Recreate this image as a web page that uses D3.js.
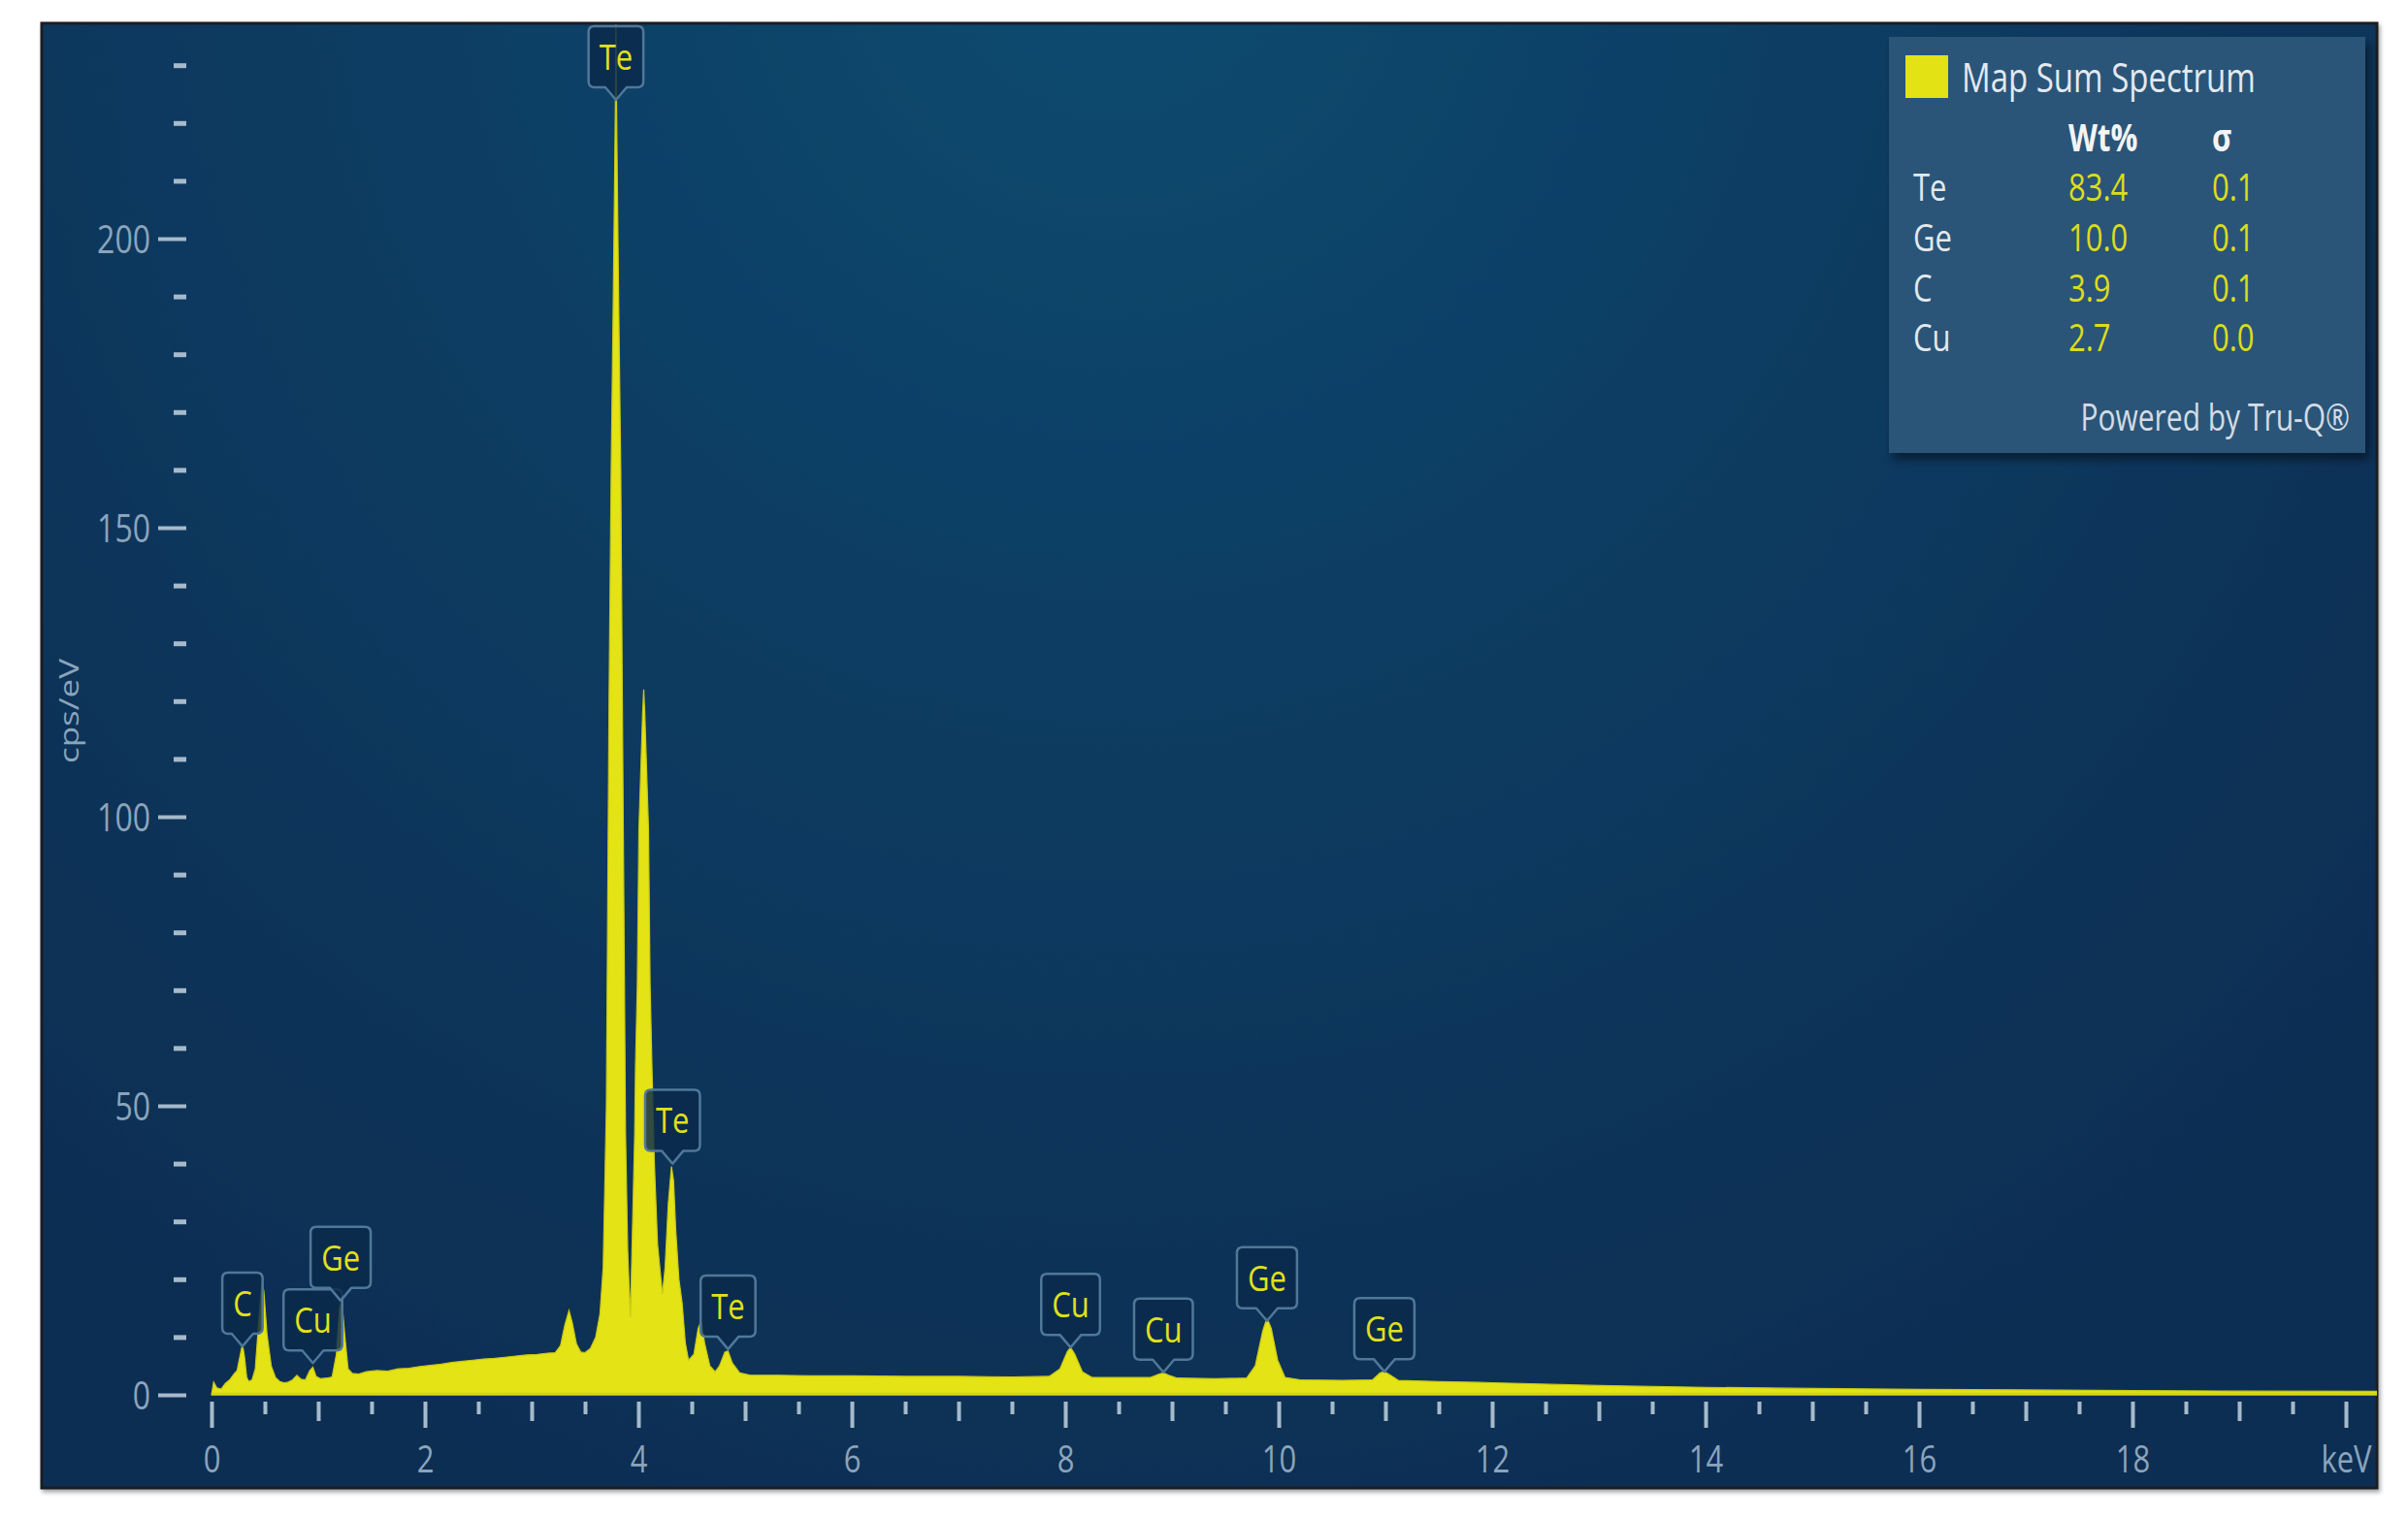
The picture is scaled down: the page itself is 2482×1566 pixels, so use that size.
<!DOCTYPE html>
<html><head><meta charset="utf-8">
<script src="https://cdn.jsdelivr.net/npm/d3@7"></script>
<style>body{margin:0;background:#fff;} svg{display:block;}</style>
</head><body>
<svg id="c" width="2482" height="1566"></svg>
<script>
// ---------- data ----------
const energy = [0.00,0.02,0.05,0.09,0.13,0.17,0.21,0.24,0.27,0.29,0.31,0.33,0.35,0.38,0.41,0.44,0.47,0.49,0.52,0.56,0.60,0.64,0.68,0.72,0.76,0.80,0.84,0.88,0.92,0.95,0.98,1.02,1.08,1.13,1.17,1.20,1.22,1.25,1.28,1.32,1.38,1.45,1.55,1.65,1.75,1.85,1.95,2.05,2.15,2.25,2.35,2.45,2.55,2.65,2.75,2.85,2.95,3.05,3.15,3.22,3.27,3.31,3.35,3.38,3.42,3.46,3.50,3.55,3.60,3.64,3.67,3.70,3.725,3.745,3.765,3.78,3.787,3.79,3.793,3.80,3.815,3.835,3.85,3.88,3.90,3.925,3.94,3.965,3.973,3.99,4.005,4.04,4.05,4.06,4.095,4.11,4.127,4.15,4.18,4.225,4.25,4.28,4.31,4.33,4.35,4.38,4.41,4.44,4.47,4.52,4.56,4.59,4.62,4.67,4.72,4.76,4.81,4.84,4.88,4.95,5.05,5.30,5.60,6.00,6.50,7.00,7.50,7.85,7.95,8.02,8.05,8.09,8.16,8.25,8.50,8.80,8.88,8.92,8.97,9.05,9.40,9.70,9.78,9.85,9.89,9.93,9.99,10.06,10.20,10.60,10.88,10.95,10.99,11.04,11.12,11.50,12.00,13.00,14.00,15.00,16.00,17.00,18.00,19.00,20.30];
const counts = [0.0,2.2,1.2,1.0,2.0,2.6,3.6,4.2,7.0,8.8,6.5,3.0,2.3,2.6,4.5,12.0,19.0,18.0,10.5,5.0,3.0,2.3,2.1,2.2,2.6,3.4,2.7,2.6,4.2,4.8,3.2,2.8,2.9,3.1,7.0,15.0,16.5,10.0,4.5,3.7,3.6,4.0,4.2,4.1,4.5,4.6,4.9,5.1,5.3,5.6,5.8,6.0,6.2,6.3,6.5,6.7,6.9,7.0,7.2,7.3,8.5,12.0,14.6,12.5,8.8,7.4,7.3,8.0,10.0,14.0,22.0,50.0,120.0,160.0,190.0,215.0,228.0,237.0,228.0,215.0,190.0,160.0,120.0,45.0,25.0,13.5,25.0,45.0,57.0,71.0,98.0,118.0,122.0,118.0,98.0,71.0,57.0,40.0,26.0,17.5,22.0,33.0,39.5,37.0,28.6,20.0,15.9,9.0,6.0,7.0,11.5,12.8,9.0,5.0,4.0,5.0,7.4,7.6,5.5,3.8,3.4,3.4,3.3,3.3,3.2,3.2,3.1,3.2,4.5,7.5,8.2,7.0,4.0,3.0,3.0,3.0,3.6,3.8,3.4,2.9,2.8,2.9,5.0,11.0,13.3,11.5,6.0,3.0,2.6,2.5,2.6,3.8,4.0,3.5,2.5,2.3,2.1,1.6,1.3,1.1,0.95,0.85,0.75,0.65,0.6];

const yMajorTicks = [0,50,100,150,200];
const yMinorTicks = [10,20,30,40,60,70,80,90,110,120,130,140,160,170,180,190,210,220,230];
const xMajorTicks = [0,2,4,6,8,10,12,14,16,18,20];
const xMajorLabels = ["0","2","4","6","8","10","12","14","16","18","keV"];
const xMidTicks = [1,3,5,7,9,11,13,15,17,19];
const xMinorTicks = [0.5,1.5,2.5,3.5,4.5,5.5,6.5,7.5,8.5,9.5,10.5,11.5,12.5,13.5,14.5,15.5,16.5,17.5,18.5,19.5];
const yAxisTitle = "cps/eV";

const peakElements = ["C","Cu","Ge","Te","Te","Te","Cu","Cu","Ge","Ge"];
const peakEnergy   = [0.29,0.95,1.21,3.79,4.32,4.84,8.05,8.92,9.89,10.99];
const peakTip      = [8.4,5.5,16.3,224,40,7.9,8.2,3.9,12.8,4.0];

const legendTitle = "Map Sum Spectrum";
const quantHeader = ["Wt%","σ"];
const quantElements = ["Te","Ge","C","Cu"];
const quantWt = ["83.4","10.0","3.9","2.7"];
const quantSigma = ["0.1","0.1","0.1","0.0"];
const footer = "Powered by Tru-Q®";

// ---------- drawing ----------
const FONT = "'Open Sans', 'Noto Sans', sans-serif";
const SY = 1.25;
const svg = d3.select("#c");
const panel = {x:43, y:24, w:2407, h:1510};

const defs = svg.append("defs");
const rg = defs.append("radialGradient").attr("id","bg").attr("gradientUnits","userSpaceOnUse")
  .attr("cx",1150).attr("cy",-60).attr("r",1750);
rg.append("stop").attr("offset",0).attr("stop-color","#0b4b70");
rg.append("stop").attr("offset",0.45).attr("stop-color","#0b3c62");
rg.append("stop").attr("offset",1).attr("stop-color","#0c2d52");
defs.append("clipPath").attr("id","clip").append("rect")
  .attr("x",panel.x).attr("y",panel.y).attr("width",panel.w).attr("height",panel.h);
const sh = defs.append("filter").attr("id","shadow").attr("x","-10%").attr("y","-10%").attr("width","130%").attr("height","130%");
sh.append("feDropShadow").attr("dx",4).attr("dy",7).attr("stdDeviation",5).attr("flood-color","#000").attr("flood-opacity",0.45);
const sh2 = defs.append("filter").attr("id","pshadow").attr("x","-5%").attr("y","-5%").attr("width","110%").attr("height","110%");
sh2.append("feDropShadow").attr("dx",2).attr("dy",3).attr("stdDeviation",2).attr("flood-color","#000").attr("flood-opacity",0.35);

// panel
svg.append("rect").attr("x",panel.x).attr("y",panel.y).attr("width",panel.w).attr("height",panel.h)
  .attr("fill","url(#bg)").attr("stroke","#1c1f24").attr("stroke-width",3).attr("filter","url(#pshadow)");

const x = d3.scaleLinear().domain([0,20]).range([218,2418]);
const y = d3.scaleLinear().domain([0,200]).range([1438,246]);

function txt(g, px, py, s, o={}) {
  return g.append("text")
    .attr("transform",`translate(${px},${py}) scale(1,${o.sy||SY})`)
    .attr("dy","0.36em")
    .attr("text-anchor",o.anchor||"start")
    .attr("font-family",FONT).attr("font-size",o.size||30)
    .attr("font-weight",o.weight||"normal")
    .attr("fill",o.fill||"#dfe6ee").text(s);
}

// y axis
const tickCol = "#a6bacb", labCol = "#8ba4bb";
const yMaj = svg.append("g").attr("transform","translate(192,0)")
  .call(d3.axisLeft(y).tickValues(yMajorTicks).tickSize(29).tickPadding(8).tickFormat(d3.format("d")));
yMaj.select(".domain").remove();
yMaj.selectAll("line").attr("stroke",tickCol).attr("stroke-width",4);
yMaj.selectAll("text").each(function(){
  const t = d3.select(this);
  t.attr("transform",`translate(-37,0) scale(1,${SY})`).attr("x",0).attr("dy","0.36em")
   .attr("fill",labCol).attr("font-family",FONT).attr("font-size",32);
});
const yMin = svg.append("g").attr("transform","translate(192,0)")
  .call(d3.axisLeft(y).tickValues(yMinorTicks).tickSize(13).tickFormat(""));
yMin.select(".domain").remove();
yMin.selectAll("line").attr("stroke",tickCol).attr("stroke-width",5);

// y title
svg.append("text").attr("transform",`translate(71,733) scale(1,${SY}) rotate(-90)`)
  .attr("text-anchor","middle").attr("dy","0.36em").attr("font-family",FONT).attr("font-size",28)
  .attr("fill",labCol).text(yAxisTitle);

// x axis
const xMaj = svg.append("g").attr("transform","translate(0,1445)")
  .call(d3.axisBottom(x).tickValues(xMajorTicks).tickSize(27).tickFormat((d,i)=>xMajorLabels[i]));
xMaj.select(".domain").remove();
xMaj.selectAll("line").attr("stroke",tickCol).attr("stroke-width",4);
xMaj.selectAll("text").each(function(){
  d3.select(this).attr("y",0).attr("dy","0.36em").attr("transform",`translate(0,59) scale(1,${SY})`)
   .attr("fill",labCol).attr("font-family",FONT).attr("font-size",31);
});
const xMid = svg.append("g").attr("transform","translate(0,1445)")
  .call(d3.axisBottom(x).tickValues(xMidTicks).tickSize(20).tickFormat(""));
xMid.select(".domain").remove();
xMid.selectAll("line").attr("stroke",tickCol).attr("stroke-width",4);
const xMin = svg.append("g").attr("transform","translate(0,1445)")
  .call(d3.axisBottom(x).tickValues(xMinorTicks).tickSize(13).tickFormat(""));
xMin.select(".domain").remove();
xMin.selectAll("line").attr("stroke",tickCol).attr("stroke-width",4);

// spectrum
const pts = energy.map((e,i)=>[e,counts[i]]);
const area = d3.area().x(d=>x(d[0])).y0(y(0)).y1(d=>y(d[1]));
const plot = svg.append("g").attr("clip-path","url(#clip)");
plot.append("path").datum(pts).attr("d",area).attr("fill","#e3e315")
  .attr("stroke","#c9c915").attr("stroke-width",1.2);
plot.append("line").attr("x1",x(0)).attr("x2",panel.x+panel.w).attr("y1",y(0)-1).attr("y2",y(0)-1)
  .attr("stroke","#d6d618").attr("stroke-width",3);

// peak callouts
function callout(cx, tipY, w, h, ph, pw, r) {
  const by = tipY - ph, ty = by - h, lx = cx - w/2, rx = cx + w/2;
  return `M${cx},${tipY} L${cx-pw},${by} L${lx+r},${by} Q${lx},${by} ${lx},${by-r} L${lx},${ty+r} Q${lx},${ty} ${lx+r},${ty} L${rx-r},${ty} Q${rx},${ty} ${rx},${ty+r} L${rx},${by-r} Q${rx},${by} ${rx-r},${by} L${cx+pw},${by} Z`;
}
const labG = svg.append("g");
peakElements.forEach((el,i)=>{
  const cx = x(peakEnergy[i]), tip = y(peakTip[i]);
  const H = 63, PH = 13;
  const g = labG.append("g");
  const path = g.append("path");
  const t = txt(g, cx, tip-PH-H/2, el, {anchor:"middle", size:31, fill:"#e0e01c", sy:1.2});
  const w = t.node().getComputedTextLength() + 22;
  path.attr("d", callout(cx, tip, w, H, PH, 11, 6))
    .attr("fill","#0a2a4a").attr("fill-opacity",0.82)
    .attr("stroke","#4f7898").attr("stroke-width",2.5).attr("stroke-linejoin","round");
});

// legend
const lg = svg.append("g");
lg.append("rect").attr("x",1947).attr("y",38).attr("width",491).attr("height",429)
  .attr("fill","#2c5578").attr("filter","url(#shadow)");
lg.append("rect").attr("x",1964).attr("y",57).attr("width",44).attr("height",44).attr("fill","#e2e214");
txt(lg, 2022, 80, legendTitle, {size:33, fill:"#e3e9ef"});
txt(lg, 2132, 142, quantHeader[0], {size:31, weight:"bold", fill:"#f2f4f6"});
txt(lg, 2280, 142, quantHeader[1], {size:31, weight:"bold", fill:"#f2f4f6"});
const rowY = [193,245,297,348];
quantElements.forEach((el,i)=>{
  txt(lg, 1972, rowY[i], el, {size:31, fill:"#e3e9ef"});
  txt(lg, 2132, rowY[i], quantWt[i], {size:31, fill:"#dcdc1c"});
  txt(lg, 2280, rowY[i], quantSigma[i], {size:31, fill:"#dcdc1c"});
});
txt(lg, 2422, 430, footer, {size:30, anchor:"end", fill:"#d3dce5"});
</script>
</body></html>
